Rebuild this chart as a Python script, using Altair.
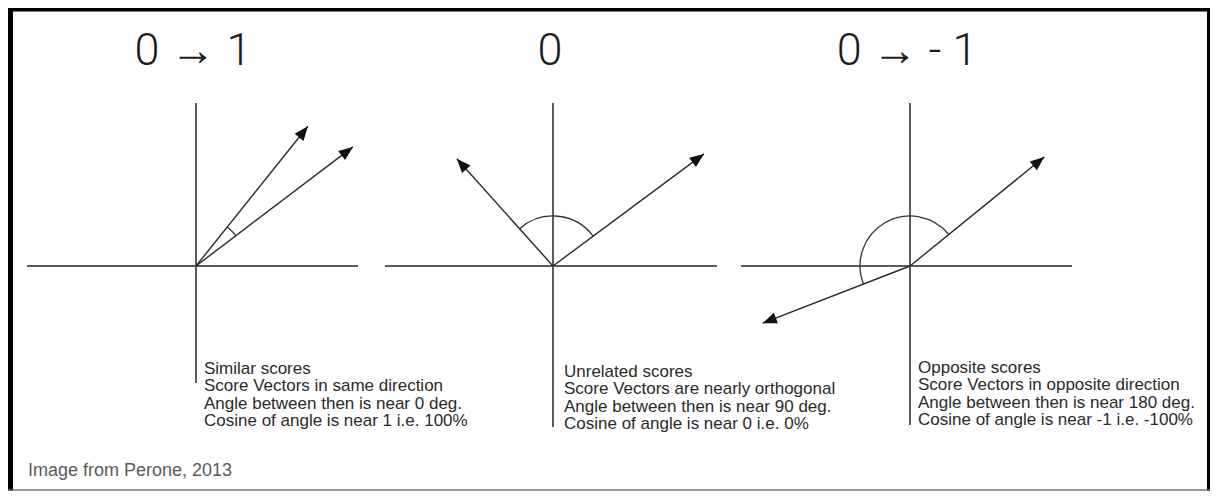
import math
import altair as alt
import pandas as pd

# ---------------- data ----------------
panel_titles = ["0 \u2192 1", "0", "0 \u2192 - 1"]
caption_lines_1 = ["Similar scores",
                   "Score Vectors in same direction",
                   "Angle between then is near 0 deg.",
                   "Cosine of angle is near 1 i.e. 100%"]
caption_lines_2 = ["Unrelated scores",
                   "Score Vectors are nearly orthogonal",
                   "Angle between then is near 90 deg.",
                   "Cosine of angle is near 0 i.e. 0%"]
caption_lines_3 = ["Opposite scores",
                   "Score Vectors in opposite direction",
                   "Angle between then is near 180 deg.",
                   "Cosine of angle is near -1 i.e. -100%"]
vector_panel = [0, 0, 1, 1, 2, 2]
vector_angle_deg = [51.3, 37.2, 131.9, 36.6, 39.1, 201.2]
vector_length = [179, 197, 144, 188, 173, 158]
source_note = "Image from Perone, 2013"

# ---------------- layout ----------------
W, H = 1202, 483
PAGE = 8
origin_x = [196, 553, 910]
origin_y = 266
h_axis_left = [169, 168, 169]
h_axis_right = [162, 164, 162]
v_axis_up = [163, 163, 163]
v_axis_down = [117, 161, 159]
arc_radius = 50
caption_dx = [8, 11, 8]
caption_y0 = [369, 372, 368]
caption_step = 17.3
title_y = 65
captions = [caption_lines_1, caption_lines_2, caption_lines_3]

xs = alt.Scale(domain=[PAGE, PAGE + W], nice=False, zero=False)
ys = alt.Scale(domain=[PAGE, PAGE + H], nice=False, zero=False, reverse=True)


def X(f):
    return alt.X(f, type="quantitative", scale=xs, axis=None)


def Y(f):
    return alt.Y(f, type="quantitative", scale=ys, axis=None)


# axes of each panel
ax_rows = []
for p in range(3):
    ox = origin_x[p]
    ax_rows.append(dict(x=ox - h_axis_left[p], x2=ox + h_axis_right[p], y=origin_y, y2=origin_y))
    ax_rows.append(dict(x=ox, x2=ox, y=origin_y - v_axis_up[p], y2=origin_y + v_axis_down[p]))
axes_df = pd.DataFrame(ax_rows)

# vectors
vec_rows = []
for p, a, L in zip(vector_panel, vector_angle_deg, vector_length):
    r = math.radians(a)
    vec_rows.append(dict(
        x=origin_x[p], y=origin_y,
        x2=origin_x[p] + L * math.cos(r), y2=origin_y - L * math.sin(r),
        rot=(90 - a) % 360,
    ))
vec_df = pd.DataFrame(vec_rows)

# titles
title_df = pd.DataFrame(dict(x=[ox - 3 for ox in origin_x], y=[title_y] * 3, t=panel_titles))

# captions
cap_rows = []
for p in range(3):
    for i, line in enumerate(captions[p]):
        cap_rows.append(dict(x=origin_x[p] + caption_dx[p], y=caption_y0[p] + i * caption_step, t=line))
cap_df = pd.DataFrame(cap_rows)

note_df = pd.DataFrame(dict(x=[28], y=[476], t=[source_note]))

LINE = "#2a2a2a"

axes_layer = alt.Chart(axes_df).mark_rule(color="#5c5c5c", strokeWidth=2).encode(
    x=X("x"), x2="x2", y=Y("y"), y2="y2")

vec_layer = alt.Chart(vec_df).mark_rule(color=LINE, strokeWidth=1.4).encode(
    x=X("x"), x2="x2", y=Y("y"), y2="y2")

head_layer = alt.Chart(vec_df).mark_point(
    shape="M0,0L0.4,1L-0.4,1Z", filled=True, color="#111", size=800, opacity=1
).encode(x=X("x2"), y=Y("y2"), angle=alt.Angle("rot:Q", scale=None))

arc_layers = []
for p in range(3):
    angs = [a for vp, a in zip(vector_panel, vector_angle_deg) if vp == p]
    lo, hi = min(angs), max(angs)
    start, end = 90 - hi, 90 - lo
    if start < 0:
        start += 360
        end += 360
    adf = pd.DataFrame(dict(x=[origin_x[p]], y=[origin_y]))
    arc_layers.append(
        alt.Chart(adf).mark_arc(
            filled=False, stroke="#333", strokeWidth=1.3,
            theta=math.radians(start), theta2=math.radians(end),
            radius=arc_radius, radius2=arc_radius,
        ).encode(x=X("x"), y=Y("y"))
    )

title_layer = alt.Chart(title_df).mark_text(
    font="Roboto", fontWeight=300, fontSize=45, color="#1e1e1e",
    align="center", baseline="alphabetic"
).encode(x=X("x"), y=Y("y"), text="t:N")

cap_layer = alt.Chart(cap_df).mark_text(
    font="Liberation Sans", fontSize=17, color="#2a2a2a",
    align="left", baseline="middle"
).encode(x=X("x"), y=Y("y"), text="t:N")

note_layer = alt.Chart(note_df).mark_text(
    font="Liberation Sans", fontSize=18, color="#5a5a5a",
    align="left", baseline="alphabetic"
).encode(x=X("x"), y=Y("y"), text="t:N")

# frame
frame_top = alt.Chart(note_df).mark_rule(color="black", strokeWidth=7).encode(
    x=alt.value(0), x2=alt.value(W), y=alt.value(0))
frame_left = alt.Chart(note_df).mark_rule(color="black", strokeWidth=10).encode(
    x=alt.value(0), y=alt.value(0), y2=alt.value(H))
frame_right = alt.Chart(note_df).mark_rule(color="black", strokeWidth=6).encode(
    x=alt.value(W), y=alt.value(0), y2=alt.value(H))
frame_bottom = alt.Chart(note_df).mark_rule(color="#777", strokeWidth=1.5).encode(
    x=alt.value(0), x2=alt.value(W), y=alt.value(H - 1))

chart = alt.layer(
    axes_layer, *arc_layers, vec_layer, head_layer,
    title_layer, cap_layer, note_layer,
    frame_top, frame_left, frame_right, frame_bottom,
).properties(
    width=W, height=H, padding=0,
    autosize=alt.AutoSizeParams(type="none"),
    background="white",
).configure_view(strokeOpacity=0)

chart.save("out.html", embed_options={"renderer": "svg", "actions": False})
